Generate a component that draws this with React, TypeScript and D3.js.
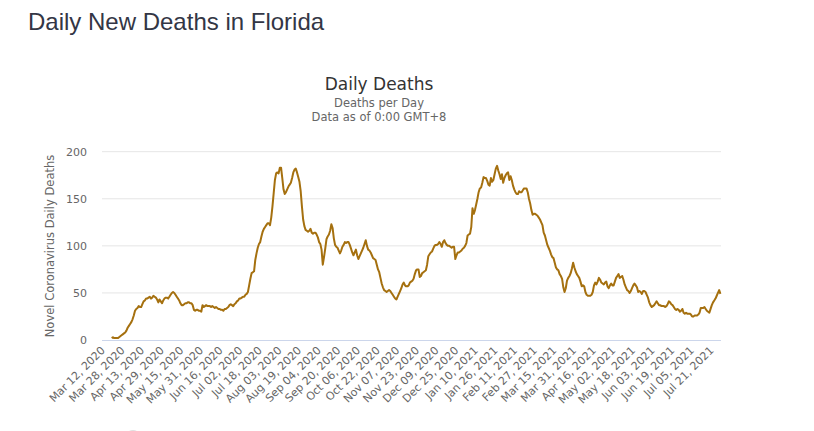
import React from 'react';
import * as d3 from 'd3';

const startDate = new Date(2020, 2, 12);
const labelEvery = 16;
const yTicks = [0, 50, 100, 150, 200];

const deaths: number[] = [
  2, 3, 2, 2, 2, 2, 3, 4, 5, 6,
  7, 8, 10, 13, 15, 17, 19, 22, 26, 31,
  33, 34, 36, 35, 35, 38, 41, 42, 44, 44,
  45, 46, 44, 45, 47, 46, 45, 43, 40, 43,
  41, 39, 42, 44, 45, 45, 44, 46, 48, 50,
  51, 50, 48, 46, 44, 42, 39, 37, 37, 38,
  39, 39, 40, 40, 39, 39, 37, 32, 31, 32,
  32, 31, 31, 30, 37, 35, 36, 37, 36, 36,
  36, 35, 36, 35, 34, 35, 34, 33, 33, 32,
  32, 31, 33, 33, 34, 35, 37, 38, 37, 36,
  38, 39, 41, 42, 44, 44, 45, 46, 46, 48,
  49, 51, 58, 65, 71, 72, 73, 85, 92, 98,
  102, 104, 110, 115, 118, 120, 122, 124, 124, 122,
  130, 142, 156, 170, 177, 178, 177, 183, 183, 172,
  160, 155, 157, 160, 163, 165, 167, 172, 178, 181,
  182, 178, 173, 168, 158, 142, 128, 121, 117, 116,
  115, 116, 118, 114, 113, 114, 114, 112, 109, 104,
  102, 96, 80, 88, 97, 107, 110, 112, 116, 123,
  119, 108, 101, 99, 98, 95, 92, 95, 99, 101,
  104, 103, 104, 104, 101, 97, 93, 90, 93, 96,
  90, 86, 89, 92, 95, 98, 102, 106, 100, 96,
  95, 93, 90, 87, 86, 85, 80, 75, 72, 66,
  60, 56, 53, 52, 51, 52, 53, 52, 50, 48,
  46, 44, 43, 46, 49, 52, 55, 59, 61, 58,
  57, 57, 58, 61, 62, 63, 65, 70, 74, 75,
  75, 67, 68, 71, 72, 73, 74, 80, 89, 91,
  93, 94, 97, 100, 101, 101, 102, 104, 102, 99,
  104, 106, 103, 101, 100, 100, 99, 98, 99, 99,
  86, 90, 93, 93, 94, 95, 97, 98, 100, 103,
  111, 112, 113, 120, 140, 134, 138, 144, 150, 157,
  161, 162, 167, 173, 172, 172, 169, 165, 164, 172,
  168, 170, 176, 182, 185, 180, 176, 171, 176, 167,
  172, 175, 177, 178, 170, 174, 170, 164, 160, 157,
  155, 155, 158, 157, 157, 159, 161, 161, 161, 157,
  150, 145, 138, 133, 134, 134, 133, 132, 130, 128,
  125, 122, 114, 111, 106, 101, 98, 95, 91, 88,
  87, 82, 77, 75, 74, 70, 68, 65, 56, 51,
  55, 63, 66, 68, 71, 76, 82, 77, 73, 70,
  68, 66, 62, 57, 58, 57, 51, 48, 47, 47,
  47, 48, 51, 58, 61, 59, 62, 66, 64, 61,
  60, 59, 61, 62, 57, 55, 58, 60, 58, 58,
  62, 66, 68, 70, 66, 67, 68, 64, 59, 56,
  53, 52, 50, 52, 55, 58, 60, 58, 56, 51,
  52, 51, 49, 52, 52, 51, 48, 45, 40, 37,
  35, 36, 37, 39, 41, 39, 37, 37, 36, 36,
  36, 35, 36, 38, 41, 40, 38, 37, 35, 33,
  32, 33, 32, 30, 31, 33, 29, 28, 29, 28,
  28, 28, 27, 25, 25, 26, 26, 26, 27, 29,
  34, 34, 34, 35, 33, 31, 30, 29, 33, 37,
  40, 42, 44, 47, 50, 53, 49,
];

const FONT = '"DejaVu Sans", "Lucida Grande", sans-serif';

export default function App() {
  const plotLeft = 102;
  const plotRight = 721;
  const x = d3.scaleLinear().domain([0, deaths.length - 1]).range([111.7, 720.4]);
  const y = d3.scaleLinear().domain([0, 200]).range([340, 151.7]);
  const line = d3
    .line<number>()
    .x((_, i) => x(i))
    .y((d) => y(d));
  const fmt = d3.timeFormat('%b %d, %Y');
  const labels = d3
    .range(0, deaths.length, labelEvery)
    .map((i) => ({ i, text: fmt(d3.timeDay.offset(startDate, i)) }));

  return (
    <svg
      width={814}
      height={431}
      style={{ position: 'absolute', left: 0, top: 0, background: '#fff' }}
    >
      <text
        x={28}
        y={30}
        fontFamily='"Liberation Sans", Arial, sans-serif'
        fontSize={24}
        fill="#333645"
      >
        Daily New Deaths in Florida
      </text>
      <text x={379} y={90} textAnchor="middle" fontFamily={FONT} fontSize={17} fill="#333333">
        Daily Deaths
      </text>
      <text x={379} y={107} textAnchor="middle" fontFamily={FONT} fontSize={11.5} fill="#666666">
        Deaths per Day
      </text>
      <text x={379} y={121} textAnchor="middle" fontFamily={FONT} fontSize={11.5} fill="#666666">
        Data as of 0:00 GMT+8
      </text>

      {yTicks.map((t) => (
        <g key={t}>
          {t !== 0 && (
            <line x1={plotLeft} x2={plotRight} y1={y(t)} y2={y(t)} stroke="#e6e6e6" strokeWidth={1} />
          )}
          <text
            x={87}
            y={y(t) + 4}
            textAnchor="end"
            fontFamily={FONT}
            fontSize={11}
            fill="#666666"
          >
            {t}
          </text>
        </g>
      ))}
      <line x1={plotLeft} x2={plotRight} y1={y(0) + 0.5} y2={y(0) + 0.5} stroke="#ccd6eb" strokeWidth={1} />

      <text
        transform={`translate(54,246) rotate(-90)`}
        textAnchor="middle"
        fontFamily={FONT}
        fontSize={11.5}
        fill="#666666"
      >
        Novel Coronavirus Daily Deaths
      </text>

      {labels.map((l) => (
        <text
          key={l.i}
          transform={`translate(${x(l.i) - 6},${351}) rotate(-45)`}
          textAnchor="end"
          fontFamily={FONT}
          fontSize={11}
          fill="#666666"
        >
          {l.text}
        </text>
      ))}

      <path d={line(deaths) || ''} fill="none" stroke="#a5700f" strokeWidth={2} strokeLinejoin="round" />

      <circle cx={133} cy={438} r={8} fill="#e0e0e0" />
    </svg>
  );
}
